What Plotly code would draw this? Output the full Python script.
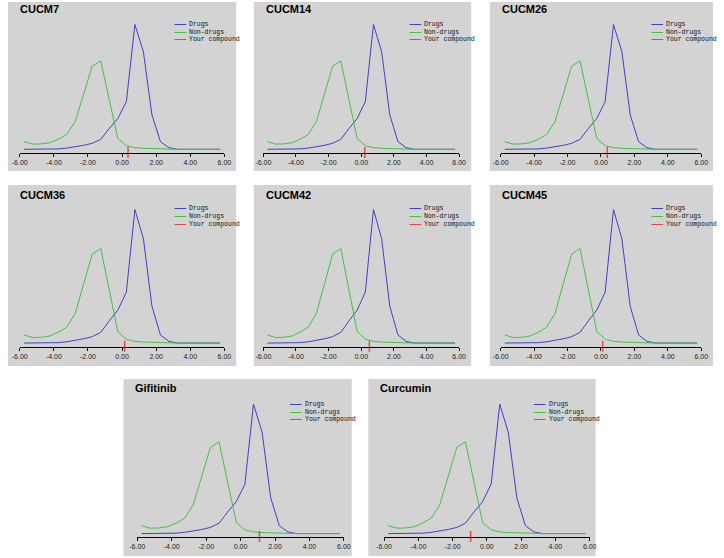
import plotly.graph_objects as go

W, H = 724, 558

# score bins (centres) and the share of each reference set falling in them
bin_centres = [-5.75, -5.25, -4.75, -4.25, -3.75, -3.25, -2.75, -2.25,
               -1.75, -1.25, -0.75, -0.25, 0.25, 0.75, 1.25, 1.75,
               2.25, 2.75, 3.25, 3.75, 4.25, 4.75, 5.25, 5.75]
drugs_pct = [0.1, 0.1, 0.1, 0.1, 0.2, 0.4, 0.7, 1.1,
             1.6, 2.6, 5.3, 7.8, 12.0, 31.3, 24.5, 8.7,
             2.0, 0.5, 0.1, 0.1, 0.1, 0.1, 0.1, 0.1]
nondrugs_pct = [2.0, 1.4, 1.45, 1.75, 2.6, 3.8, 7.0, 14.1,
                20.9, 22.2, 12.1, 2.8, 1.0, 0.5, 0.35, 0.25,
                0.15, 0.1, 0.1, 0.1, 0.1, 0.1, 0.1, 0.1]

compounds = ["CUCM7", "CUCM14", "CUCM26", "CUCM36", "CUCM42", "CUCM45",
             "Gifitinib", "Curcumin"]
compound_scores = [0.35, 0.22, 0.38, 0.15, 0.5, 0.1, 1.1, -0.95]

x_ticks = [-6, -4, -2, 0, 2, 4, 6]
tick_labels = ["-6.00", "-4.00", "-2.00", "0.00", "2.00", "4.00", "6.00"]
legend_labels = ["Drugs", "Non-drugs", "Your compound"]

BLUE = "#4141c8"
GREEN = "#41c441"
RED = "#e04a4a"
PANEL = "#d3d3d3"

# pixel geometry of the three rows: panel top/bottom, zero level, px per %, axis line
ROWS = [
    dict(top=2, bottom=171, zero=149.7, unit=4.0, axis=153, title=9, leg=24),
    dict(top=185, bottom=366, zero=343.5, unit=4.28, axis=346.7, title=195, leg=208.5),
    dict(top=379, bottom=556, zero=534, unit=4.15, axis=537, title=388, leg=404),
]
# row, panel left, panel right, pixel of x=-6, pixel of x=6
PANELS = [
    (0, 0, 233, 12, 221),
    (0, 251, 473, 260.7, 460.7),
    (0, 492, 720, 503, 708),
    (1, 0, 233, 12, 221),
    (1, 251, 473, 260.7, 460.7),
    (1, 492, 720, 503, 708),
    (2, 118, 351, 132, 343),
    (2, 368, 600, 384, 594),
]


def fx(p):
    return p / W


def fy(p):
    return 1 - p / H


fig = go.Figure()
shapes, annotations = [], []

for i, (name, score, (r, bx0, bx1, t0, t1)) in enumerate(zip(compounds, compound_scores, PANELS)):
    row = ROWS[r]
    n = "" if i == 0 else str(i + 1)
    xa, ya = "x" + n, "y" + n
    bottom_px = row["axis"] + 9

    shapes.append(dict(type="rect", xref="paper", yref="paper", layer="below",
                       x0=fx(bx0), x1=fx(bx1), y0=fy(row["bottom"]), y1=fy(row["top"]),
                       fillcolor=PANEL, line=dict(width=0)))

    fig.add_trace(go.Scatter(x=bin_centres, y=drugs_pct, mode="lines", xaxis=xa, yaxis=ya,
                             line=dict(color=BLUE, width=1), showlegend=False))
    fig.add_trace(go.Scatter(x=bin_centres, y=nondrugs_pct, mode="lines", xaxis=xa, yaxis=ya,
                             line=dict(color=GREEN, width=1), showlegend=False))
    red_lo = (row["zero"] - (row["axis"] + 5)) / row["unit"]
    red_hi = (row["zero"] - (row["axis"] - 6)) / row["unit"]
    fig.add_trace(go.Scatter(x=[score, score], y=[red_lo, red_hi], mode="lines",
                             xaxis=xa, yaxis=ya, line=dict(color=RED, width=1.5),
                             showlegend=False))

    fig.layout["xaxis" + n] = dict(
        domain=[fx(t0), fx(t1)], range=[-6, 6], anchor="free", position=fy(row["axis"]),
        showline=True, linecolor="#000", linewidth=1, ticks="outside", ticklen=3,
        tickcolor="#000", tickvals=x_ticks, ticktext=tick_labels, showgrid=False,
        zeroline=False, tickfont=dict(family="Liberation Sans", size=7, color="#222"))
    fig.layout["yaxis" + n] = dict(
        domain=[fy(bottom_px), fy(row["top"])], anchor=xa, visible=False,
        range=[(row["zero"] - bottom_px) / row["unit"], (row["zero"] - row["top"]) / row["unit"]])

    annotations.append(dict(text=name, xref="paper", yref="paper", x=fx(bx0 + 10),
                            y=fy(row["title"]), xanchor="left", yanchor="middle",
                            showarrow=False,
                            font=dict(family="Liberation Sans", size=11, color="#000",
                                      weight="bold")))

    # legend block in the upper right of each panel
    lx = round(bx1 - 63)
    for k, (lab, col) in enumerate(zip(legend_labels, [BLUE, GREEN, RED])):
        ly = round(row["leg"] + k * 7.5) + 0.5
        shapes.append(dict(type="line", xref="paper", yref="paper",
                           x0=fx(lx), x1=fx(lx + 12), y0=fy(ly), y1=fy(ly),
                           line=dict(color=col, width=1)))
        annotations.append(dict(text=lab, xref="paper", yref="paper", x=fx(lx + 13),
                                y=fy(ly), xanchor="left", yanchor="middle", showarrow=False,
                                font=dict(family="Liberation Mono", size=6.5, color="#111")))

fig.update_layout(width=W, height=H, margin=dict(l=0, r=0, t=0, b=0),
                  paper_bgcolor="white", plot_bgcolor="rgba(0,0,0,0)",
                  shapes=shapes, annotations=annotations, showlegend=False,
                  hovermode=False)

fig.write_html("out.html", config={"displayModeBar": False},
               post_script="document.body.style.margin='0';document.body.style.overflow='hidden';")
